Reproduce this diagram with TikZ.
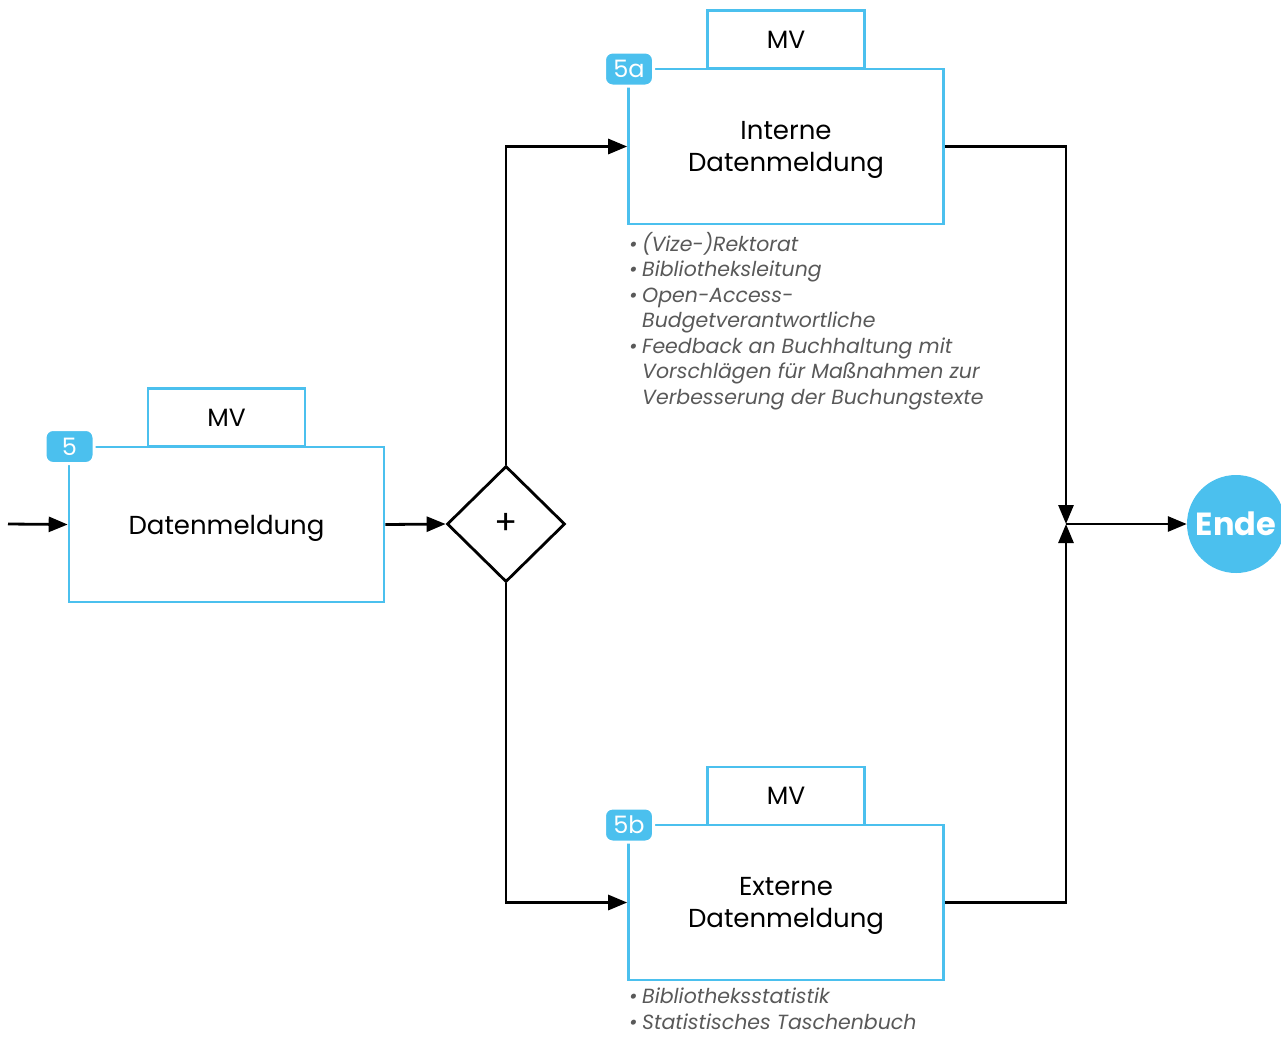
\documentclass[tikz,border=0pt]{standalone}
\usepackage{fontspec}
\setmainfont{Poppins}
\usetikzlibrary{shapes.geometric,arrows.meta}
\definecolor{bpblue}{HTML}{4BC0EE}
\definecolor{notegray}{HTML}{595959}
\begin{document}
\begin{tikzpicture}[x=1pt,y=-1pt,
  task/.style={draw=bpblue,line width=2.6pt,minimum width=315pt,minimum height=155pt,
    inner sep=0pt,align=center,text depth=0pt,font=\fontsize{26}{32}\selectfont},
  tab/.style={draw=bpblue,line width=2.6pt,minimum width=157pt,minimum height=58pt,
    inner sep=0pt,font=\fontsize{25}{30}\selectfont},
  badge/.style={fill=bpblue,draw=white,line width=3pt,rounded corners=8pt,minimum width=49pt,
    minimum height=34pt,inner sep=0pt,text=white,font=\fontsize{24}{28}\selectfont},
  gateway/.style={diamond,draw,line width=2.8pt,minimum width=118pt,minimum height=116pt,
    inner sep=0pt,font=\fontsize{34}{36}\selectfont},
  flow/.style={line width=2.8pt,-{Triangle[length=19pt,width=15pt]}},
  note/.style={anchor=north west,align=left,inner sep=0pt,text=notegray,
    font=\fontsize{20.5}{25.5}\selectfont\itshape},
  endevent/.style={circle,fill=bpblue,minimum size=98pt,inner sep=0pt,text=white,
    font=\fontsize{32}{34}\selectfont\bfseries}
]
\useasboundingbox (0,0) rectangle (1281,1037);
\newcommand{\bul}{\makebox[13pt][l]{•}}
\newcommand{\ind}{\hspace*{13pt}}

% task 5
\node[tab]  (t5tab)   at (226.5,417.5) {MV};
\node[task] (t5)      at (226.5,524.5) {Datenmeldung};
\node[badge] (t5badge) at (69.5,446.5) {5};

% parallel gateway
\node[gateway] (gw) at (506,524) {+};

% task 5a
\node[tab]  (t5atab)   at (786,39.5) {MV};
\node[task] (t5a)      at (786,146.5) {Interne\\Datenmeldung};
\node[badge] (t5abadge) at (629,69) {5a};
\node[note] (n5a) at (629,232) {\bul(Vize-)Rektorat\\
  \bul Bibliotheksleitung\\
  \bul Open-Access-\\
  \ind Budgetverantwortliche\\
  \bul Feedback an Buchhaltung mit\\
  \ind Vorschlägen für Maßnahmen zur\\
  \ind Verbesserung der Buchungstexte};

% task 5b
\node[tab]  (t5btab)   at (786,796) {MV};
\node[task] (t5b)      at (786,902.5) {Externe\\Datenmeldung};
\node[badge] (t5bbadge) at (629,825) {5b};
\node[note] (n5b) at (629,988) {\bul Bibliotheksstatistik\\
  \bul Statistisches Taschenbuch};

% end event
\node[endevent] (ende) at (1236,524) {Ende};

\coordinate (start) at (8,524);
\coordinate (join) at (1066,524);

% sequence flows
\draw[flow] (start) -- (t5.west);
\draw[flow] (t5.east) -- (gw.west);
\draw[flow] (gw.north) |- (t5a.west);
\draw[flow] (gw.south) |- (t5b.west);
\draw[flow] (t5a.east) -| (join);
\draw[flow] (t5b.east) -| (join);
\draw[flow] (join) -- (ende.west);
\end{tikzpicture}
\end{document}
